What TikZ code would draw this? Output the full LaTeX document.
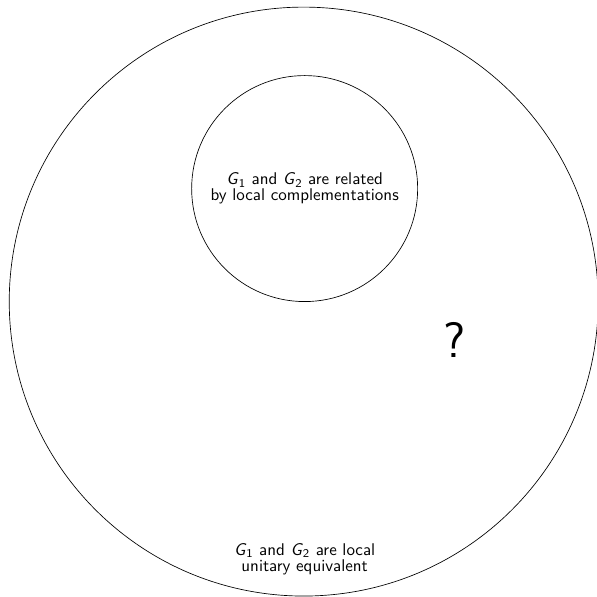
\documentclass[tikz,border=0pt]{standalone}
\usepackage{tikz}
\usetikzlibrary{positioning}

\newcommand{\gsub}[1]{\textit{G}\textsubscript{#1}}

\begin{document}
\begin{tikzpicture}[
    ring/.style={circle, draw, thin, inner sep=0pt},
    label_text/.style={align=center, font=\sffamily\fontsize{10.2}{8}\selectfont},
]

    \useasboundingbox (0,0) rectangle (12.6,12.6);

%% CLASSES
    % local unitary equivalence
    \node[ring, minimum size=12.43cm] (lue) at (6.41,6.235) {};
    % local complementation
    \node[ring, minimum size=4.77cm] (lc) at (6.43,8.62) {};

%% LABELS
    \node[label_text] (lctext) at (lc.center) {\gsub{1} and \gsub{2} are related\\by local complementations};
    \node[label_text] (luetext) at (6.43,0.8) {\gsub{1} and \gsub{2} are local\\unitary equivalent};
    \node[font=\sffamily\fontsize{30}{36}\selectfont] (open) at (9.6,5.42) {?};

\end{tikzpicture}
\end{document}
